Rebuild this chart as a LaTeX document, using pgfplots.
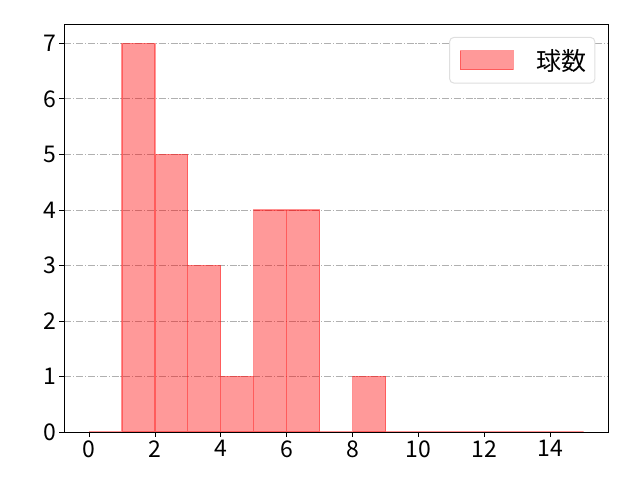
\documentclass[border=0pt]{standalone}
\usepackage{fontspec}
\setmainfont{Noto Sans CJK JP}
\usepackage{pgfplots}
\pgfplotsset{compat=1.18}
\definecolor{gridc}{HTML}{B0B0B0}
\begin{document}
\begin{tikzpicture}
\path[use as bounding box] (0,0) rectangle (640bp,480bp);
\begin{axis}[
  at={(64.3bp,48bp)}, anchor=south west,
  scale only axis, width=544bp, height=408bp,
  xmin=-0.75, xmax=15.75, ymin=0, ymax=7.35,
  xtick={0,2,...,14}, ytick={0,1,...,7},
  tick pos=left, tick align=outside,
  major tick length=4.9bp,
  tick style={black, line width=0.9bp},
  axis line style={line width=0.9bp},
  ymajorgrids,
  grid style={color=gridc, line width=0.9bp, dash pattern=on 7.1bp off 1.8bp on 1.1bp off 1.8bp},
  ticklabel style={font=\fontsize{23bp}{27bp}\selectfont},
  /pgf/number format/assume math mode=true,
  legend style={at={(1,1)}, anchor=north east, xshift=-13bp, yshift=-13bp,
    draw=gray!25, rounded corners=4bp, line width=1bp,
    font=\fontsize{25bp}{29bp}\selectfont,
    inner xsep=3bp, inner ysep=7.5bp,
    nodes={inner xsep=5bp, inner ysep=4bp}},
  legend cell align=left,
  legend image code/.code={\path (0bp,0bp); \draw[#1, sharp corners] (7bp,-9.5bp) rectangle (60bp,9.5bp);},
]
\addplot[ybar interval, fill=red, fill opacity=0.4, draw=red, draw opacity=0.4, line width=1.1bp]
 coordinates {(0,0)(1,7)(2,5)(3,3)(4,1)(5,4)(6,4)(7,0)(8,1)(9,0)(10,0)(11,0)(12,0)(13,0)(14,0)(15,0)};
\addlegendentry{\hspace{18bp}球数}
\end{axis}
\end{tikzpicture}
\end{document}
